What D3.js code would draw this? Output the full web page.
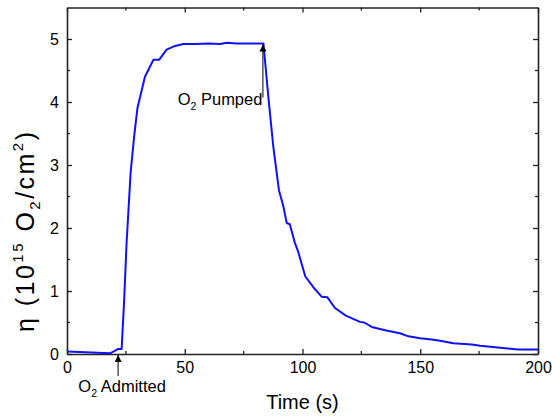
<!DOCTYPE html>
<html>
<head>
<meta charset="utf-8">
<script src="https://cdn.jsdelivr.net/npm/d3@7"></script>
<style>
  body { margin: 0; background: #fff; }
  svg { display: block; font-family: "Liberation Sans", Arial, sans-serif; }
  .axis path, .axis line { stroke: #222; }
  .axis text { font-size: 16px; fill: #000; }
</style>
</head>
<body>
<div id="chart"></div>
<script>
// time (s) and coverage (10^15 O2/cm^2)
const times = [0, 18.3, 21.8, 23.2, 24.2, 25.3, 27.0, 28.5, 29.9, 33.1, 36.7, 39.1, 42.3, 45.9, 49.4,
  55, 60, 65, 68, 72, 78, 83.4, 85.5, 87.6, 90.0, 91.9, 93.3, 94.6, 96.8, 98.2, 101.2, 104.6, 108.1,
  110.6, 113.8, 118.4, 124.4, 126.2, 129.4, 136, 141.4, 145, 149.9, 154.9, 158.4, 164, 171.9, 175.4,
  183.9, 191.6, 199.4, 200];
const eta = [0.04, 0.01, 0.08, 0.08, 0.8, 1.76, 2.87, 3.45, 3.90, 4.40, 4.67, 4.67, 4.83, 4.89, 4.92,
  4.92, 4.93, 4.92, 4.94, 4.93, 4.93, 4.93, 4.08, 3.29, 2.60, 2.34, 2.08, 2.06, 1.76, 1.62, 1.23, 1.06, 0.91,
  0.90, 0.73, 0.61, 0.51, 0.50, 0.43, 0.37, 0.33, 0.28, 0.25, 0.23, 0.21, 0.17, 0.15, 0.13,
  0.10, 0.07, 0.07, 0.07];
const xTicks = [0, 50, 100, 150, 200];
const xMinor = [25, 75, 125, 175];
const yTicks = [0, 1, 2, 3, 4, 5];
const yMinor = [0.5, 1.5, 2.5, 3.5, 4.5];
const admittedAt = 21.7, pumpedAt = 83.4;

const W = 552, H = 416;
const margin = { top: 7.5, right: 14, bottom: 62, left: 67 };
const width = W - margin.left - margin.right;
const height = H - margin.top - margin.bottom;

const svg = d3.select("#chart").append("svg").attr("width", W).attr("height", H);
const g = svg.append("g").attr("transform", `translate(${margin.left},${margin.top})`);

const x = d3.scaleLinear().domain([0, 200]).range([0, width]);
const y = d3.scaleLinear().domain([0, 5.5]).range([height, 0]);

// inward ticks on all four sides, major + minor
function frameAxis(axisFn, scale, ticks, minor, tf, showLabels) {
  const horiz = axisFn === d3.axisBottom || axisFn === d3.axisTop;
  const inward = (axisFn === d3.axisBottom || axisFn === d3.axisRight) ? -3 : 3;
  const a = g.append("g").attr("class", "axis").attr("transform", tf);
  a.call(axisFn(scale).tickValues(ticks).tickSizeInner(-5).tickSizeOuter(0)
      .tickPadding(8).tickFormat(showLabels ? d3.format("d") : ""));
  a.call(s => s.select(".domain").attr("stroke-width", 1.6));
  a.selectAll(".tick line").attr("stroke-width", 1.3);
  a.append("g").selectAll("line").data(minor).join("line")
    .attr("stroke", "#222").attr("stroke-width", 1.3)
    .attr(horiz ? "x1" : "y1", d => scale(d)).attr(horiz ? "x2" : "y2", d => scale(d))
    .attr(horiz ? "y1" : "x1", 0).attr(horiz ? "y2" : "x2", inward);
  return a;
}

frameAxis(d3.axisBottom, x, xTicks, xMinor, `translate(0,${height})`, true)
  .selectAll(".tick text").attr("dy", "0.85em").attr("y", 5);
frameAxis(d3.axisTop, x, xTicks, xMinor, "translate(0,0)", false);
frameAxis(d3.axisLeft, y, yTicks, yMinor, "translate(0,0)", true)
  .selectAll(".tick text").attr("x", -8);
frameAxis(d3.axisRight, y, yTicks, yMinor, `translate(${width},0)`, false);

// data trace
const line = d3.line().x((d, i) => x(times[i])).y(d => y(d));
g.append("path").datum(eta).attr("fill", "none").attr("stroke", "#1010ff")
  .attr("stroke-width", 2).attr("stroke-linejoin", "round").attr("d", line);

// arrows
svg.append("defs").append("marker").attr("id", "arr")
  .attr("viewBox", "0 0 10 10").attr("refX", 10).attr("refY", 5)
  .attr("markerWidth", 10).attr("markerHeight", 7).attr("markerUnits", "userSpaceOnUse")
  .attr("orient", "auto")
  .append("path").attr("d", "M0,0 L10,5 L0,10 Z").attr("fill", "#000");

g.append("line").attr("x1", x(admittedAt)).attr("x2", x(admittedAt))
  .attr("y1", height + 22).attr("y2", height + 1)
  .attr("stroke", "#000").attr("stroke-width", 1).attr("marker-end", "url(#arr)");
g.append("line").attr("x1", x(pumpedAt) - 0.5).attr("x2", x(pumpedAt) - 0.5)
  .attr("y1", 90).attr("y2", y(4.93) + 1)
  .attr("stroke", "#000").attr("stroke-width", 1).attr("marker-end", "url(#arr)");

const t1 = g.append("text").attr("x", x(admittedAt) + 4).attr("y", height + 38)
  .attr("text-anchor", "middle").attr("font-size", 16.5);
t1.append("tspan").text("O");
t1.append("tspan").attr("font-size", 10.5).attr("dy", 5).text("2");
t1.append("tspan").attr("dy", -5).text(" Admitted");

const t2 = g.append("text").attr("x", x(pumpedAt) - 1).attr("y", 97.5)
  .attr("text-anchor", "end").attr("font-size", 16.5);
t2.append("tspan").text("O");
t2.append("tspan").attr("font-size", 10.5).attr("dy", 5).text("2");
t2.append("tspan").attr("dy", -5).text(" Pumped");

// axis titles
svg.append("text").attr("x", margin.left + width / 2).attr("y", 409)
  .attr("text-anchor", "middle").attr("font-size", 20).text("Time (s)");

const yl = svg.append("text").attr("transform", "translate(34,232) rotate(-90)")
  .attr("text-anchor", "middle").attr("font-size", 25)
  .attr("textLength", 200).attr("lengthAdjust", "spacing");
yl.append("tspan").text("η (10");
yl.append("tspan").attr("font-size", 15).attr("dy", -11).text("15");
yl.append("tspan").attr("dy", 11).text(" O");
yl.append("tspan").attr("font-size", 15).attr("dy", 6).text("2");
yl.append("tspan").attr("dy", -6).text("/cm");
yl.append("tspan").attr("font-size", 15).attr("dy", -11).text("2");
yl.append("tspan").attr("dy", 11).text(")");
</script>
</body>
</html>
